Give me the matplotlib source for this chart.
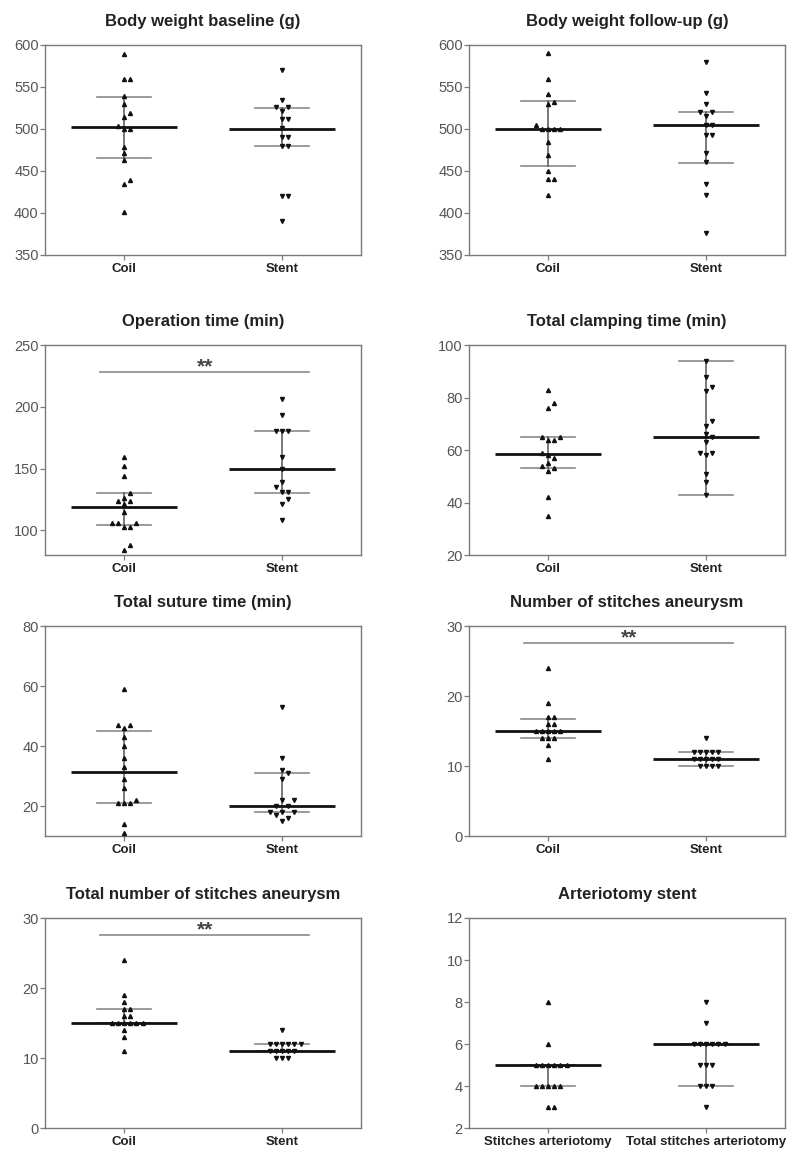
import numpy as np
import matplotlib
matplotlib.use("Agg")
import matplotlib.pyplot as plt

plt.rcParams['font.family'] = ['Liberation Sans', 'DejaVu Sans']

# ================= DATA =================
titles = [
    "Body weight baseline (g)", "Body weight follow-up (g)",
    "Operation time (min)", "Total clamping time (min)",
    "Total suture time (min)", "Number of stitches aneurysm",
    "Total number of stitches aneurysm", "Arteriotomy stent",
]
groups = [["Coil", "Stent"]] * 7 + [["Stitches arteriotomy", "Total stitches arteriotomy"]]

bw_base_coil = [589, 559, 559, 539, 530, 519, 514, 504, 500, 500, 479, 471, 463, 439, 434, 401]
bw_base_stent = [570, 535, 526, 526, 521, 512, 512, 501, 491, 491, 480, 480, 420, 420, 391]
bw_fu_coil = [591, 560, 542, 532, 530, 505, 500, 500, 500, 500, 485, 469, 450, 440, 440, 421]
bw_fu_stent = [580, 543, 530, 520, 520, 516, 505, 505, 493, 493, 472, 461, 434, 421, 376]
op_coil = [159, 152, 144, 130, 126, 124, 124, 121, 115, 106, 106, 106, 103, 103, 88, 84]
op_stent = [206, 193, 180, 180, 180, 159, 150, 139, 135, 131, 131, 125, 121, 108]
clamp_coil = [83, 78, 76, 65, 65, 64, 64, 59, 58, 57, 55, 54, 53, 52, 42, 35]
clamp_stent = [94, 88, 84, 82.5, 71, 69, 66, 65, 63, 59, 59, 58, 51, 48, 43]
suture_coil = [59, 47, 47, 46, 43, 40, 36, 33, 29, 26, 22, 21, 21, 21, 14, 11]
suture_stent = [53, 36, 32, 31, 29, 22, 22, 20, 20, 18, 18, 18, 17, 16, 15]
stitch_coil = [24, 19, 17, 17, 16, 16, 15, 15, 15, 15, 15, 14, 14, 14, 13, 11]
stitch_stent = [14, 12, 12, 12, 12, 12, 11, 11, 11, 11, 11, 10, 10, 10, 10]
tot_stitch_coil = [24, 19, 18, 17, 17, 16, 16, 15, 15, 15, 15, 15, 15, 14, 13, 11]
tot_stitch_stent = [14, 12, 12, 12, 12, 12, 12, 11, 11, 11, 11, 11, 10, 10, 10]
art_stitches = [8, 6, 5, 5, 5, 5, 5, 5, 4, 4, 4, 4, 4, 3, 3]
art_total = [8, 7, 6, 6, 6, 6, 6, 6, 5, 5, 5, 4, 4, 4, 3]

series = [
    (bw_base_coil, bw_base_stent), (bw_fu_coil, bw_fu_stent),
    (op_coil, op_stent), (clamp_coil, clamp_stent),
    (suture_coil, suture_stent), (stitch_coil, stitch_stent),
    (tot_stitch_coil, tot_stitch_stent), (art_stitches, art_total),
]

# median, q1, q3 for each group
summary = [
    ((502, 465, 538), (500, 480, 525)),
    ((500, 456, 533), (505, 460, 520)),
    ((119, 104, 130), (150, 130, 180)),
    ((58.5, 53, 65), (65, 43, 94)),
    ((31.5, 21, 45), (20, 18, 31)),
    ((15, 14, 16.75), (11, 10, 12)),
    ((15, 15, 17), (11, 11, 12)),
    ((5, 4, 5), (6, 4, 6)),
]

ylims = [(350, 600), (350, 600), (80, 250), (20, 100), (10, 80), (0, 30), (0, 30), (2, 12)]
yticks = [
    [350, 400, 450, 500, 550, 600], [350, 400, 450, 500, 550, 600],
    [100, 150, 200, 250], [20, 40, 60, 80, 100], [20, 40, 60, 80],
    [0, 10, 20, 30], [0, 10, 20, 30], [2, 4, 6, 8, 10, 12],
]
# significance bars: panel index -> y of bar
signif = {2: 228, 5: 27.6, 6: 27.6}


# ================= HELPERS =================
def swarm_offsets(ax, vals, d=6.2):
    bb = ax.get_window_extent()
    y0, y1 = ax.get_ylim()
    x0, x1 = ax.get_xlim()
    ypx = (np.asarray(vals, float) - y0) / (y1 - y0) * bb.height
    xscale = bb.width / (x1 - x0)
    offs = np.zeros(len(vals))
    placed = []
    for i in np.argsort(vals, kind="stable"):
        for k in range(0, 20):
            step = (k + 1) // 2 * (1 if k % 2 else -1)
            x = step * d
            if all((x - px) ** 2 + (ypx[i] - py) ** 2 >= d * d * 0.95 for px, py in placed):
                break
        placed.append((x, ypx[i]))
        offs[i] = x / xscale
    return offs


# ================= PLOT =================
fig = plt.figure(figsize=(7.9, 11.53), dpi=100)
W, H = 790, 1153
lefts = [45, 469]
bottoms = [255, 555, 836, 1128]
aw, ah = 316, 210

spine_c = "#7a7a7a"
for i in range(8):
    r, c = divmod(i, 2)
    ax = fig.add_axes([lefts[c] / W, 1 - bottoms[r] / H, aw / W, ah / H])
    ax.set_xlim(-0.5, 1.5)
    ax.set_ylim(*ylims[i])
    ax.set_yticks(yticks[i])
    ax.set_xticks([0, 1])
    ax.set_xticklabels(groups[i], fontsize=9.5, fontweight="bold", color="#222222")
    ax.tick_params(axis="y", labelsize=10.5, labelcolor="#555555", color=spine_c,
                   length=3.5, width=0.9, pad=1)
    ax.tick_params(axis="x", color=spine_c, length=3.5, width=0.9, pad=2)
    for s in ax.spines.values():
        s.set_color(spine_c)
        s.set_linewidth(1.0)
    ax.set_title(titles[i], fontsize=12, fontweight="bold", color="#222222", pad=14)

    for g, (vals, (med, q1, q3)) in enumerate(zip(series[i], summary[i])):
        ax.plot([g - 0.335, g + 0.335], [med, med], color="#111111", lw=2.0,
                solid_capstyle="butt", zorder=3)
        ax.plot([g - 0.172, g + 0.172], [q1, q1], color="#8a8a8a", lw=1.2, zorder=2)
        ax.plot([g - 0.172, g + 0.172], [q3, q3], color="#8a8a8a", lw=1.2, zorder=2)
        ax.plot([g, g], [q1, q3], color="#555555", lw=1.1, zorder=2)
        offs = swarm_offsets(ax, vals)
        ax.plot(g + offs, vals, linestyle="none", marker="^" if g == 0 else "v",
                ms=2.9, color="#111111", zorder=4)

    if i in signif:
        yb = signif[i]
        ax.plot([-0.152, 1.173], [yb, yb], color="#8a8a8a", lw=1.2)
        ax.annotate("**", xy=(0.51, yb), xytext=(0, -3), textcoords="offset points",
                    ha="center", va="bottom", fontsize=15, fontweight="bold", color="#444444")

plt.savefig("out.png", dpi=100)
plt.close()
